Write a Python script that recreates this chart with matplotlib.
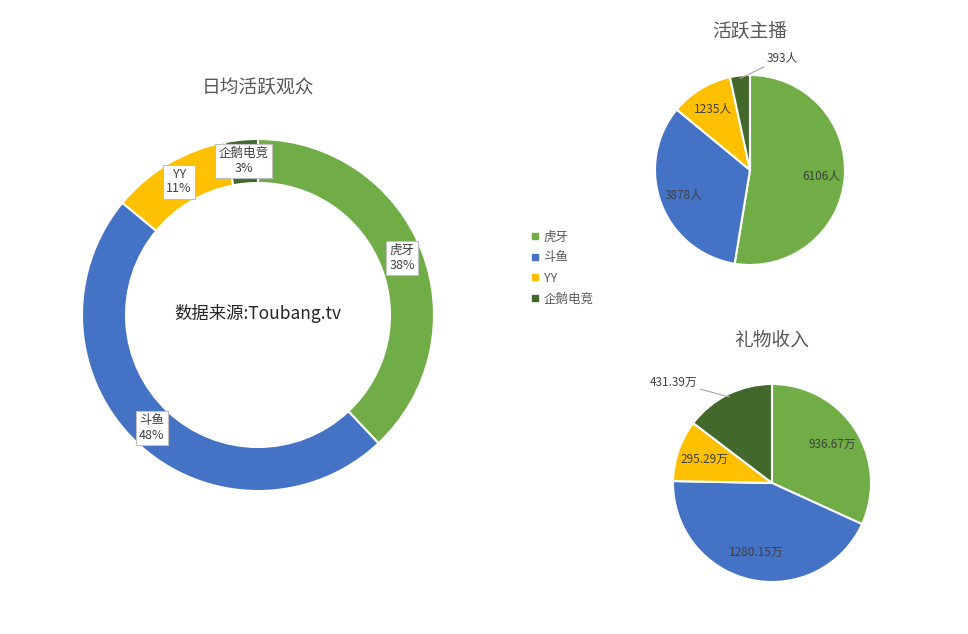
import numpy as np
import matplotlib
matplotlib.use("Agg")
import matplotlib.pyplot as plt
from matplotlib.lines import Line2D

plt.rcParams['font.family'] = ['Noto Sans CJK SC', 'DejaVu Sans']

platforms = ['虎牙', '斗鱼', 'YY', '企鹅电竞']
colors = ['#70AD47', '#4472C4', '#FFC000', '#43682B']

viewer_share = [38, 48, 11, 3]
streamers = [6106, 3878, 1235, 393]
gift_income = [936.67, 1280.15, 295.29, 431.39]

W, H = 968, 634
fig = plt.figure(figsize=(W / 100, H / 100), dpi=100)


def make_ax(cx, cy, r):
    ax = fig.add_axes([(cx - r) / W, (H - cy - r) / H, 2 * r / W, 2 * r / H])
    ax.axis('off')
    return ax


def fix_limits(ax):
    # pie() resets the limits, so set them back afterwards
    ax.set_xlim(-1, 1)
    ax.set_ylim(-1, 1)
    ax.set_aspect('equal')


def mid_angles(vals):
    vals = np.asarray(vals, dtype=float)
    cum = np.cumsum(vals) / vals.sum()
    start = 90 - 360 * np.concatenate([[0], cum[:-1]])
    end = 90 - 360 * cum
    return np.radians((start + end) / 2)


wp = dict(edgecolor='white', linewidth=1.5)

# donut
ax1 = make_ax(258, 315, 176)
ax1.pie(viewer_share, colors=colors, startangle=90, counterclock=False,
        radius=1, wedgeprops=dict(width=0.25, **wp))
fix_limits(ax1)
for name, v, a in zip(platforms, viewer_share, mid_angles(viewer_share)):
    ax1.text(0.88 * np.cos(a), 0.88 * np.sin(a), f'{name}\n{v}%',
             ha='center', va='center', fontsize=9, color='#404040',
             linespacing=1.15,
             bbox=dict(boxstyle='square,pad=0.25', fc='white', ec='#BFBFBF', lw=0.8))
ax1.text(0, 0.01, '数据来源:Toubang.tv', ha='center', va='center',
         fontsize=12.5, color='#262626')
ax1.text(0, 1.29, '日均活跃观众', ha='center', va='center', fontsize=13.5, color='#595959')

# streamers pie
ax2 = make_ax(750, 170, 95)
ax2.pie(streamers, colors=colors, startangle=90, counterclock=False, wedgeprops=wp)
fix_limits(ax2)
for i, (v, a) in enumerate(zip(streamers, mid_angles(streamers))):
    if i < 3:
        ax2.text(0.75 * np.cos(a), 0.75 * np.sin(a), f'{v}人', ha='center',
                 va='center', fontsize=8.5, color='#404040')
    else:
        ax2.annotate(f'{v}人', xy=(0.97 * np.cos(a), 0.97 * np.sin(a)),
                     xytext=(0.18, 1.18), ha='left', va='center', fontsize=8.5,
                     color='#404040',
                     arrowprops=dict(arrowstyle='-', color='#A6A6A6', lw=0.8,
                                     shrinkA=0, shrinkB=0))
ax2.text(0, 1.47, '活跃主播', ha='center', va='center', fontsize=13.5, color='#595959')

# gift income pie
ax3 = make_ax(772, 483, 99)
ax3.pie(gift_income, colors=colors, startangle=90, counterclock=False, wedgeprops=wp)
fix_limits(ax3)
for i, (v, a) in enumerate(zip(gift_income, mid_angles(gift_income))):
    if i < 3:
        ax3.text(0.72 * np.cos(a), 0.72 * np.sin(a), f'{v:.2f}万', ha='center',
                 va='center', fontsize=8.5, color='#404040')
    else:
        ax3.annotate(f'{v:.2f}万', xy=(0.97 * np.cos(a), 0.97 * np.sin(a)),
                     xytext=(-0.75, 1.02), ha='right', va='center', fontsize=8.5,
                     color='#404040',
                     arrowprops=dict(arrowstyle='-', color='#A6A6A6', lw=0.8,
                                     shrinkA=0, shrinkB=0))
ax3.text(0, 1.44, '礼物收入', ha='center', va='center', fontsize=13.5, color='#595959')

# legend
handles = [Line2D([], [], marker='s', linestyle='', color=c, markersize=4.5)
           for c in colors]
leg = fig.legend(handles, platforms, loc='upper left',
                 bbox_to_anchor=(525 / W, 1 - 224 / H), frameon=False,
                 fontsize=9, handlelength=0.6, handletextpad=0.4,
                 labelspacing=0.62, borderpad=0)
for t in leg.get_texts():
    t.set_color('#595959')

fig.savefig('out.png', dpi=100)
